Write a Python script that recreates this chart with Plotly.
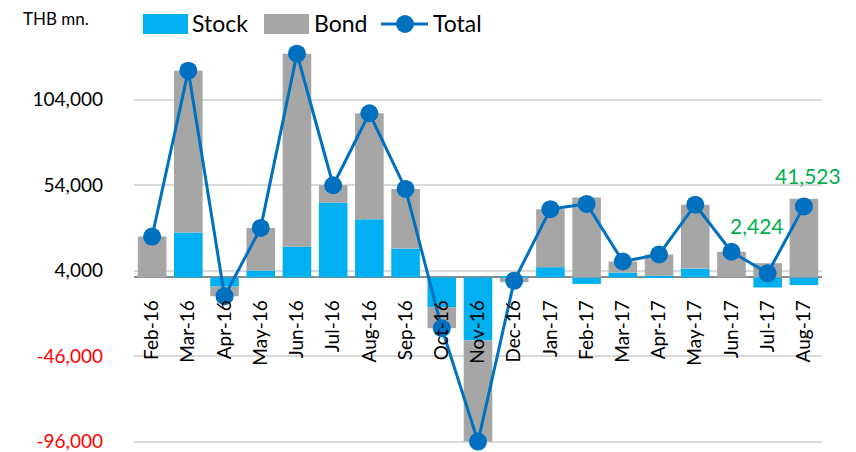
import plotly.graph_objects as go

# Monthly net fund flows, THB million
months = ["Feb-16", "Mar-16", "Apr-16", "May-16", "Jun-16", "Jul-16", "Aug-16",
          "Sep-16", "Oct-16", "Nov-16", "Dec-16", "Jan-17", "Feb-17", "Mar-17",
          "Apr-17", "May-17", "Jun-17", "Jul-17", "Aug-17"]
stock = [0, 26200, -5400, 4000, 18000, 43750, 34000, 16850, -17400, -36950,
         800, 6000, -3800, 2800, 900, 5150, 0, -5900, -4500]
bond = [23900, 94700, -5600, 24950, 112800, 10150, 62000, 34900, -12300, -59050,
        -2800, 33900, 46800, 6500, 12500, 37350, 15000, 8324, 46023]
total = [23900, 120900, -11000, 28950, 130800, 53900, 96000, 51750, -29700, -96000,
         -2000, 39900, 43000, 9300, 13400, 42500, 15000, 2424, 41523]

# value labels shown for the last two months: (index, x shift, y shift)
labelled = [(17, -11, 48), (18, 4, 31)]

tick_vals = [-96000, -46000, 4000, 54000, 104000]

STOCK_C = "#00B0F0"
BOND_C = "#A6A6A6"
TOTAL_C = "#0070C0"
GREEN = "#00B050"
FONT = "Lato"

W, H = 856, 452
ML, MR, MT, MB = 134, 34, 38, 7
Y_MIN, Y_MAX = -98000, 140000


def px(x):
    return (x - ML) / (W - ML - MR)


def py(y):
    return (H - MB - y) / (H - MT - MB)


def fmt(v):
    return f"{v:,.0f}"


tick_text = [
    f'<span style="color:#FF0000">{fmt(v)}</span>' if v < 0 else fmt(v)
    for v in tick_vals
]

fig = go.Figure()
fig.add_trace(go.Bar(x=months, y=stock, name="Stock", marker_color=STOCK_C,
                     marker_line_width=0))
fig.add_trace(go.Bar(x=months, y=bond, name="Bond", marker_color=BOND_C,
                     marker_line_width=0))
fig.add_trace(go.Scatter(x=months, y=total, name="Total", mode="lines+markers",
                         line=dict(color=TOTAL_C, width=3),
                         marker=dict(color=TOTAL_C, size=18),
                         cliponaxis=False))

annotations = []
for i, dx, dy in labelled:
    annotations.append(dict(x=months[i], y=total[i], xref="x", yref="y",
                            text=fmt(total[i]), showarrow=False,
                            xshift=dx, yshift=dy, yanchor="middle",
                            font=dict(family=FONT, size=21, color=GREEN)))

# unit caption
annotations.append(dict(x=px(21), y=py(19), xref="paper", yref="paper",
                        text="THB mn.", showarrow=False, xanchor="left",
                        yanchor="middle", font=dict(family=FONT, size=17, color="#000")))

# legend drawn as swatches with labels
shapes = []
legend_font = dict(family=FONT, size=23, color="#000")
for x0, color, label, tx in [(143, STOCK_C, "Stock", 190), (264, BOND_C, "Bond", 312)]:
    shapes.append(dict(type="rect", xref="paper", yref="paper",
                       x0=px(x0), x1=px(x0 + 45), y0=py(34), y1=py(14),
                       fillcolor=color, line_width=0))
    annotations.append(dict(x=px(tx), y=py(23), xref="paper", yref="paper",
                            text=label, showarrow=False, xanchor="left",
                            yanchor="middle", font=legend_font))
shapes.append(dict(type="line", xref="paper", yref="paper",
                   x0=px(381), x1=px(428), y0=py(24), y1=py(24),
                   line=dict(color=TOTAL_C, width=3)))
shapes.append(dict(type="circle", xref="paper", yref="paper",
                   x0=px(396), x1=px(414), y0=py(33), y1=py(15),
                   fillcolor=TOTAL_C, line_width=0))
annotations.append(dict(x=px(431), y=py(23), xref="paper", yref="paper",
                        text="Total", showarrow=False, xanchor="left",
                        yanchor="middle", font=legend_font))

zero_pos = (0 - Y_MIN) / (Y_MAX - Y_MIN)

fig.update_layout(
    width=W, height=H,
    margin=dict(l=ML, r=MR, t=MT, b=MB, autoexpand=False),
    paper_bgcolor="white", plot_bgcolor="white",
    barmode="relative", bargap=0.21,
    showlegend=False,
    font=dict(family=FONT, color="#000"),
    annotations=annotations, shapes=shapes,
    xaxis=dict(type="category", range=[-0.5, len(months) - 0.5],
               anchor="free", position=zero_pos, automargin=False,
               showgrid=False, showline=False, ticks="",
               tickangle=-90, ticklabelstandoff=18,
               tickfont=dict(family=FONT, size=19, color="#000")),
    yaxis=dict(range=[Y_MIN, Y_MAX], tickvals=tick_vals, ticktext=tick_text,
               automargin=False,
               showgrid=True, gridcolor="#D9D9D9", gridwidth=1.5,
               zeroline=True, zerolinecolor="#8C8C8C", zerolinewidth=1.5,
               ticks="", ticklabelstandoff=30, ticklabeloverflow="allow",
               tickfont=dict(family=FONT, size=19, color="#000")),
)

fig.write_html("out.html")
